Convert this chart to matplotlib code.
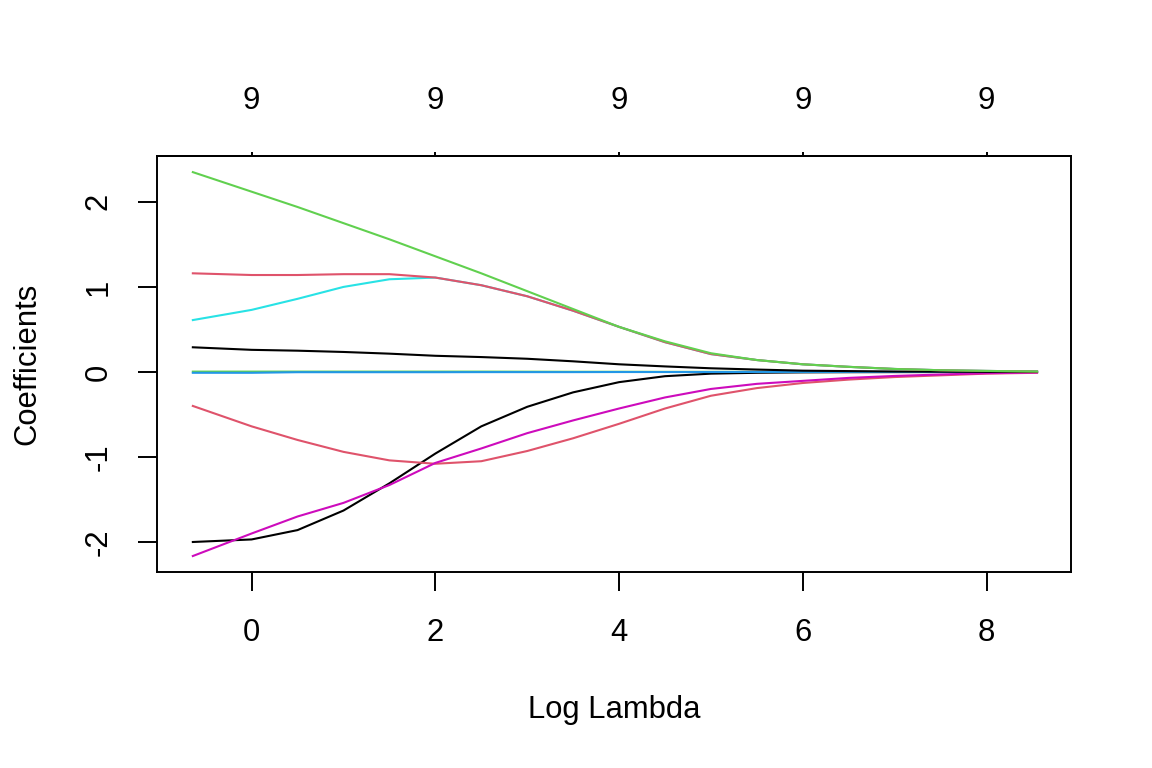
import numpy as np
import matplotlib.pyplot as plt

log_lambda = [-0.64, 0, 0.5, 1, 1.5, 2, 2.5, 3, 3.5, 4, 4.5, 5, 5.5, 6, 6.5, 7, 7.5, 8, 8.55]

# coefficient paths (one per variable), R palette order
coef_v1 = [-2.0, -1.97, -1.86, -1.63, -1.31, -0.96, -0.64, -0.41, -0.24, -0.12, -0.05, -0.02, -0.01, -0.005, -0.003, -0.002, -0.001, 0.0, 0.0]
coef_v2 = [-0.40, -0.64, -0.80, -0.94, -1.04, -1.08, -1.05, -0.93, -0.78, -0.61, -0.43, -0.28, -0.19, -0.13, -0.09, -0.06, -0.04, -0.02, -0.01]
coef_v3 = [0.004, 0.004, 0.004, 0.004, 0.004, 0.004, 0.004, 0.003, 0.002, 0.002, 0.001, 0.001, 0.001, 0.0, 0.0, 0.0, 0.0, 0.0, 0.0]
coef_v4 = [-0.01, -0.01, -0.003, -0.003, -0.003, -0.003, -0.002, -0.002, -0.002, -0.001, -0.001, -0.001, 0.0, 0.0, 0.0, 0.0, 0.0, 0.0, 0.0]
coef_v5 = [0.61, 0.73, 0.86, 1.00, 1.09, 1.11, 1.02, 0.89, 0.72, 0.53, 0.35, 0.21, 0.14, 0.09, 0.06, 0.035, 0.02, 0.012, 0.005]
coef_v6 = [-2.165, -1.90, -1.70, -1.54, -1.33, -1.07, -0.90, -0.72, -0.57, -0.43, -0.30, -0.20, -0.14, -0.105, -0.07, -0.047, -0.03, -0.015, -0.007]
coef_v7 = [0.29, 0.26, 0.25, 0.235, 0.215, 0.19, 0.175, 0.155, 0.125, 0.09, 0.065, 0.043, 0.028, 0.015, 0.01, 0.005, 0.003, 0.001, 0.0]
coef_v8 = [1.16, 1.14, 1.14, 1.15, 1.15, 1.11, 1.02, 0.89, 0.72, 0.53, 0.35, 0.21, 0.14, 0.09, 0.06, 0.035, 0.02, 0.012, 0.005]
coef_v9 = [2.35, 2.12, 1.94, 1.75, 1.56, 1.36, 1.16, 0.95, 0.74, 0.53, 0.36, 0.22, 0.14, 0.09, 0.06, 0.035, 0.02, 0.012, 0.005]

# top axis: number of nonzero coefficients
top_ticks = [0, 2, 4, 6, 8]
top_labels = ["9", "9", "9", "9", "9"]

palette = ["#000000", "#DF536B", "#61D04F", "#2297E6", "#28E2E5", "#CD0BBC"]

plt.rcParams["font.family"] = ["Liberation Sans", "DejaVu Sans"]
fs = 22.3

fig = plt.figure(figsize=(11.52, 7.68), dpi=100)
ax = fig.add_axes([0.1363, 0.2552, 0.7934, 0.5417])

paths = [coef_v1, coef_v2, coef_v3, coef_v4, coef_v5, coef_v6, coef_v7, coef_v8, coef_v9]
for i, c in enumerate(paths):
  ax.plot(log_lambda, c, color=palette[i % 6], lw=1.5)

ax.set_xlim(-1.03, 8.92)
ax.set_ylim(-2.353, 2.54)
ax.set_xticks([0, 2, 4, 6, 8])
ax.set_yticks([-2, -1, 0, 1, 2])
ax.set_yticklabels(["-2", "-1", "0", "1", "2"], rotation=90, va="center")
for s in ax.spines.values():
  s.set_linewidth(1.4)
ax.tick_params(axis="x", length=14, width=1.4, pad=19, labelsize=fs)
ax.tick_params(axis="y", length=14, width=1.4, pad=17, labelsize=fs)

ax.set_xlabel("Log Lambda", fontsize=fs, labelpad=34)
ax.set_ylabel("Coefficients", fontsize=fs, labelpad=30)

top = ax.secondary_xaxis("top")
top.set_xticks(top_ticks)
top.set_xticklabels(top_labels)
top.tick_params(axis="x", length=3, width=1.4, pad=26, labelsize=fs)
top.spines["top"].set_linewidth(1.4)

fig.savefig("out.png", dpi=100)
